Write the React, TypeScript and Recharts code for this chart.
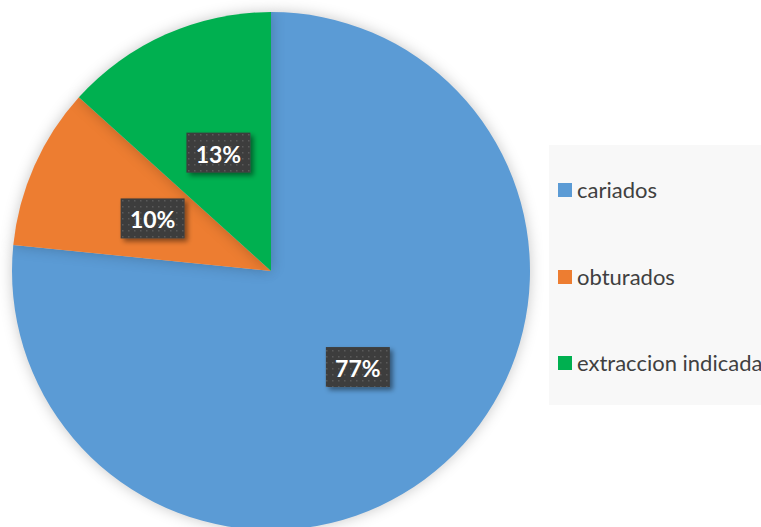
import React from 'react'
import { PieChart, Pie, Cell, Legend } from 'recharts'

const categories = ['cariados', 'obturados', 'extraccion indicada']
const values = [76.6, 10.1, 13.3]
const colors = ['#5B9BD5', '#ED7D31', '#00B050']

const data = categories.map((name, i) => ({ name, value: values[i] }))

const RAD = Math.PI / 180

const renderLabel = (props: any) => {
  const { cx, cy, midAngle, outerRadius, percent } = props
  const r = outerRadius * 0.5
  const x = cx + r * Math.cos(-midAngle * RAD)
  const y = cy + r * Math.sin(-midAngle * RAD)
  return (
    <g>
      <rect x={x - 32} y={y - 20} width={64} height={40} fill="url(#dots)" filter="url(#lblShadow)" />
      <text
        x={x}
        y={y + 1}
        textAnchor="middle"
        dominantBaseline="central"
        fill="#ffffff"
        fontFamily="Lato"
        fontWeight="bold"
        fontSize={23}
      >
        {`${(percent * 100).toFixed(0)}%`}
      </text>
    </g>
  )
}

const renderLegend = (props: any) => {
  // keep the legend in data order
  const payload = [...(props.payload || [])].sort(
    (a: any, b: any) => categories.indexOf(a.value) - categories.indexOf(b.value)
  )
  return (
    <div style={{ width: 212, height: 260, background: '#f8f8f8', position: 'relative' }}>
      {payload.map((entry: any, i: number) => (
        <div
          key={entry.value}
          style={{
            position: 'absolute',
            left: 9,
            top: 31 + i * 86.5,
            display: 'flex',
            alignItems: 'center',
            whiteSpace: 'nowrap',
          }}
        >
          <span style={{ width: 14, height: 14, background: entry.color, display: 'inline-block', marginRight: 5 }} />
          <span style={{ fontFamily: 'Lato', fontSize: 22, color: '#404040', lineHeight: '28px' }}>{entry.value}</span>
        </div>
      ))}
    </div>
  )
}

export default function App() {
  return (
    <div style={{ position: 'fixed', left: 0, top: 0, width: 761, height: 527, overflow: 'hidden', background: '#fff' }}>
      <style>{`.recharts-pie-sector { filter: drop-shadow(0 0 7px rgba(0,0,0,0.22)); }`}</style>
      <PieChart width={761} height={527} margin={{ top: 0, right: 0, bottom: 0, left: 0 }}>
        <defs>
          <pattern id="dots" width={6} height={6} patternUnits="userSpaceOnUse">
            <rect width={6} height={6} fill="#3d3d3d" />
            <rect x={2} y={2} width={1.5} height={1.5} fill="#5a5a5a" />
          </pattern>
          <filter id="lblShadow" x="-20%" y="-20%" width="150%" height="160%">
            <feDropShadow dx={3} dy={3} stdDeviation={2.5} floodColor="#000" floodOpacity={0.45} />
          </filter>
        </defs>
        <Pie
          data={data}
          dataKey="value"
          nameKey="name"
          cx={271}
          cy={271}
          outerRadius={259}
          startAngle={90}
          endAngle={-270}
          stroke="none"
          label={renderLabel}
          labelLine={false}
          isAnimationActive={false}
        >
          {data.map((d, i) => (
            <Cell key={d.name} fill={colors[i]} />
          ))}
        </Pie>
        <Legend content={renderLegend} wrapperStyle={{ left: 549, top: 145, width: 212 }} />
      </PieChart>
    </div>
  )
}
